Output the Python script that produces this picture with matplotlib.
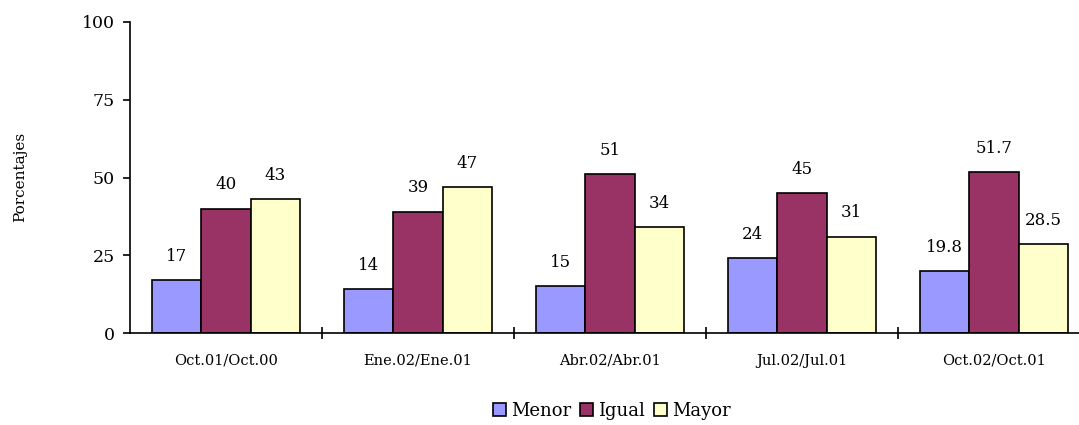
import matplotlib
matplotlib.use("Agg")
import matplotlib.pyplot as plt
import numpy as np

# data
periods = ["Oct.01/Oct.00", "Ene.02/Ene.01", "Abr.02/Abr.01", "Jul.02/Jul.01", "Oct.02/Oct.01"]
menor = [17, 14, 15, 24, 19.8]
igual = [40, 39, 51, 45, 51.7]
mayor = [43, 47, 34, 31, 28.5]
labels_menor = ["17", "14", "15", "24", "19.8"]
labels_igual = ["40", "39", "51", "45", "51.7"]
labels_mayor = ["43", "47", "34", "31", "28.5"]

plt.rcParams['font.family'] = ['DejaVu Serif']

W, H = 1079, 425
fig = plt.figure(figsize=(W / 100, H / 100), dpi=100)
ax = fig.add_axes([130 / W, 92 / H, 960 / W, 311 / H])

x = np.arange(len(periods))
bw = 0.257
series = [
    (menor, labels_menor, "#9999FF", "Menor"),
    (igual, labels_igual, "#993366", "Igual"),
    (mayor, labels_mayor, "#FFFFCC", "Mayor"),
]
for i, (vals, labs, col, name) in enumerate(series):
    bars = ax.bar(x + (i - 1) * bw, vals, bw, color=col, edgecolor="black",
                  linewidth=1.2, label=name)
    for b, lab in zip(bars, labs):
        ax.annotate(lab, (b.get_x() + b.get_width() / 2, b.get_height()),
                    xytext=(0, 11), textcoords="offset points",
                    ha="center", va="bottom", fontsize=12)

ax.set_xlim(-0.5, len(periods) - 0.5)
ax.set_ylim(0, 100)
ax.set_yticks([0, 25, 50, 75, 100])
ax.tick_params(axis="y", labelsize=12.5, length=5, width=1.2, direction="out", pad=6)

# category boundary ticks crossing the axis
ax.set_xticks(np.arange(len(periods)) + 0.5)
ax.set_xticklabels([])
ax.set_xticks(x, minor=True)
ax.set_xticklabels(periods, minor=True, fontsize=10.5)
ax.tick_params(axis="x", which="major", direction="inout", length=9, width=1.2)
ax.tick_params(axis="x", which="minor", length=0, pad=15)

for s in ["top", "right"]:
    ax.spines[s].set_visible(False)
for s in ["left", "bottom"]:
    ax.spines[s].set_linewidth(1.2)

fig.text(20 / W, 248 / H, "Porcentajes", rotation=90, ha="center", va="center", fontsize=11)

fig.legend(loc="center", bbox_to_anchor=(612 / W, 14 / H), ncol=3, frameon=False,
           fontsize=13, handlelength=0.7, handleheight=0.7, handletextpad=0.3,
           columnspacing=0.5)

plt.savefig("out.png", dpi=100)
